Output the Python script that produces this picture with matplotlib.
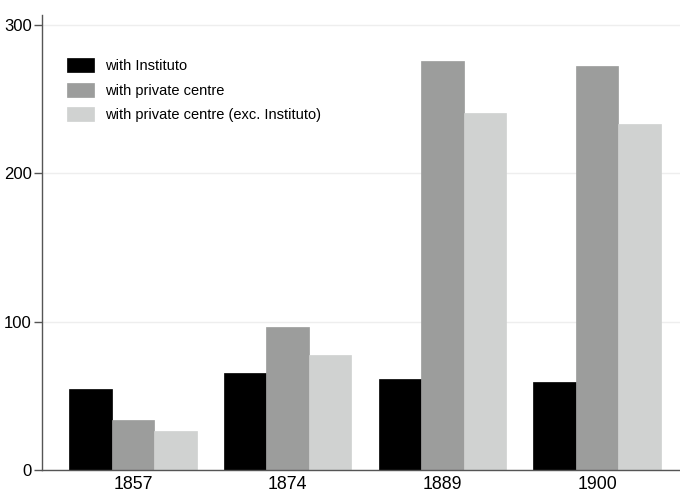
import numpy as np
import matplotlib.pyplot as plt

plt.rcParams['font.family'] = ['Liberation Sans', 'DejaVu Sans']

years = ['1857', '1874', '1889', '1900']
instituto = [54.4, 65.4, 61.4, 59.3]
private = [33.5, 96.4, 275.6, 272.6]
private_exc = [26.3, 77.3, 240.5, 233.3]

labels = ['with Instituto', 'with private centre', 'with private centre (exc. Instituto)']
colors = ['#000000', '#9c9d9c', '#d0d2d1']

fig = plt.figure(figsize=(6.8, 4.96), dpi=100)
ax = fig.add_axes([42 / 680, 1 - 470 / 496, 638 / 680, 455 / 496])

x = np.arange(len(years))
w = 0.2743
for i, (vals, lab, col) in enumerate(zip([instituto, private, private_exc], labels, colors)):
    ax.bar(x + (i - 1) * w, vals, width=w, color=col, edgecolor=col, linewidth=0.5, label=lab, zorder=2)

ax.set_xlim(-0.588, 3.5365)
ax.set_ylim(0, 306.8)
ax.set_yticks([0, 100, 200, 300])
ax.set_xticks(x)
ax.set_xticklabels(years, fontsize=12.8)
ax.tick_params(axis='x', length=0, pad=4)
ax.tick_params(axis='y', length=5.5, width=1, color='#555555', labelsize=12, pad=2)
ax.grid(axis='y', color='#eeeeee', linewidth=1, zorder=0)

for s in ['top', 'right']:
    ax.spines[s].set_visible(False)
for s in ['left', 'bottom']:
    ax.spines[s].set_color('#555555')
    ax.spines[s].set_linewidth(1)

ax.legend(loc='upper left', bbox_to_anchor=(67 / 680, 1 - 58 / 496), bbox_transform=fig.transFigure,
          frameon=False, fontsize=10.5, handlelength=1.85, handleheight=1.1, labelspacing=0.66,
          handletextpad=0.73, borderpad=0, borderaxespad=0)

fig.savefig('out.png', dpi=100)
